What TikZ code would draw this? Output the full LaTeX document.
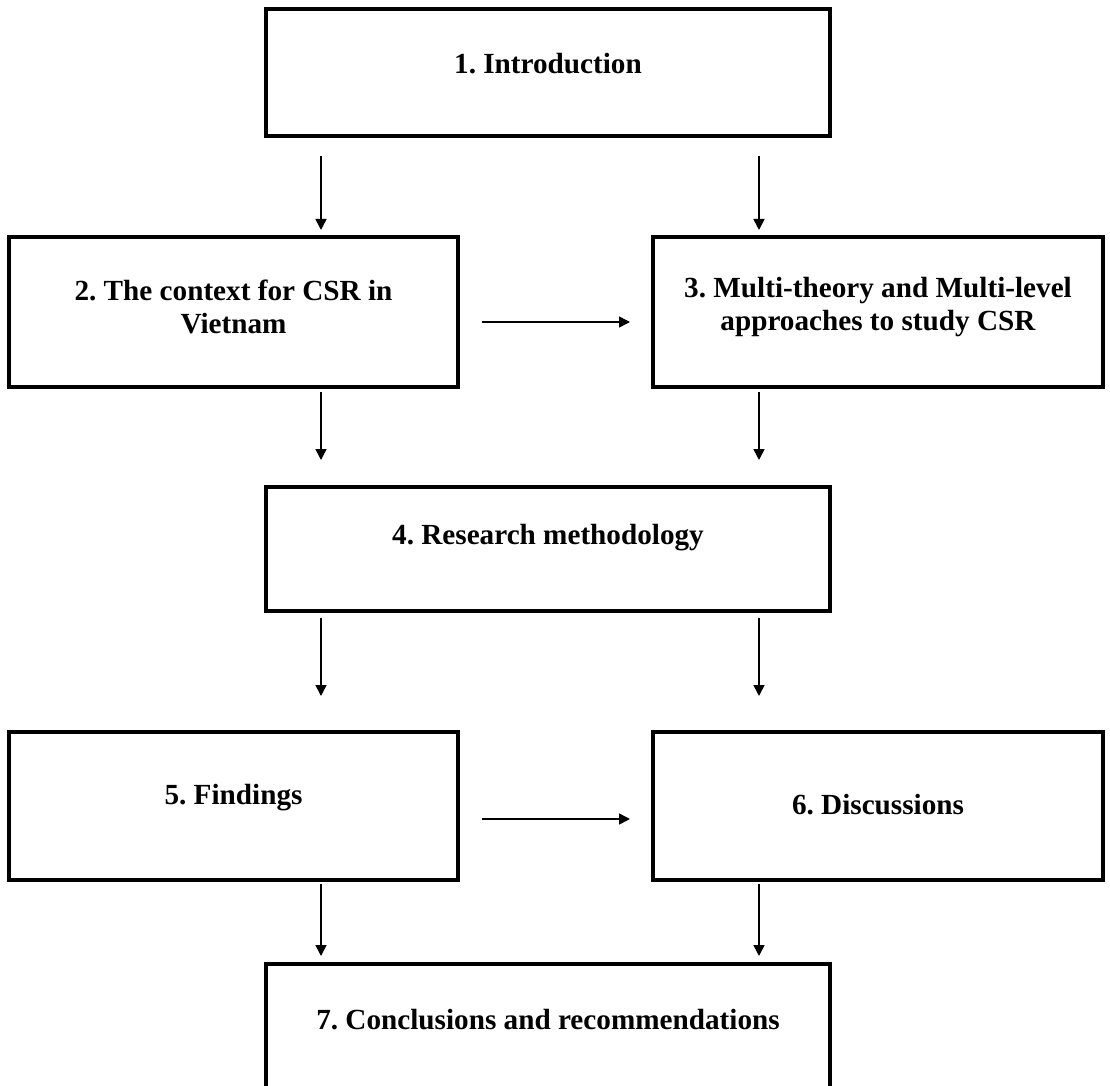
\documentclass[tikz,border=0pt]{standalone}
\usepackage{fontspec}
\setmainfont{Liberation Serif}
\frenchspacing
\usetikzlibrary{positioning,arrows.meta}
\tikzset{
    block/.style = {draw, rectangle, line width=2pt, outer sep=0pt,
        minimum height=75pt,
        minimum width=224.5pt, align=center, inner sep=2pt,
        font=\fontsize{14.6}{16.5}\selectfont\bfseries},
    wide/.style = {block, minimum width=282pt},
    lift/.style = {text depth=#1},
    arrow/.style = {draw, -{Triangle[width=5.5pt,length=5.5pt]}, line width=0.8pt}
}

\begin{document}
\begin{tikzpicture}
    \useasboundingbox (0,0) rectangle (555pt,-543pt);
    \node [wide, minimum height=63.5pt, lift=9pt] at (274pt,-36.25pt) (intro) {1. Introduction};
    \node [block, lift=5pt] at (116.75pt,-156pt) (context) {2. The context for CSR in\\Vietnam};
    \node [block, minimum width=225pt, lift=8pt, right=97.5pt of context] (multi) {3. Multi-theory and Multi-level\\approaches to study CSR};
    \node [wide, minimum height=62pt, lift=15pt, below=175.5pt of intro] (method) {4. Research methodology};
    \node [block, minimum height=74pt, lift=12pt, below=172.5pt of context] (findings) {5. Findings};
    \node [block, minimum height=74pt, minimum width=225pt, lift=2pt, right=97.5pt of findings] (discuss) {6. Discussions};
    \node [wide, minimum height=64pt, lift=9pt, below=176.5pt of method] (concl) {7. Conclusions and recommendations};
    \coordinate (lx) at (160.5pt,0);
    \coordinate (rx) at (379.5pt,0);
    \draw [arrow, shorten <=10pt, shorten >=3.5pt] (intro.south -| lx) -- (context.north -| lx);
    \draw [arrow, shorten <=10pt, shorten >=3.5pt] (intro.south -| rx) -- (multi.north -| rx);
    \draw [arrow, shorten <=12pt, shorten >=11.5pt] ([yshift=-5pt]context.east) -- ([yshift=-5pt]multi.west);
    \draw [arrow, shorten <=2.5pt, shorten >=13.5pt] (context.south -| lx) -- (method.north -| lx);
    \draw [arrow, shorten <=2.5pt, shorten >=13.5pt] (multi.south -| rx) -- (method.north -| rx);
    \draw [arrow, shorten <=3.5pt, shorten >=18pt] (method.south -| lx) -- (findings.north -| lx);
    \draw [arrow, shorten <=3.5pt, shorten >=18pt] (method.south -| rx) -- (discuss.north -| rx);
    \draw [arrow, shorten <=12pt, shorten >=11.5pt] ([yshift=-6.5pt]findings.east) -- ([yshift=-6.5pt]discuss.west);
    \draw [arrow, shorten <=2pt, shorten >=4pt] (findings.south -| lx) -- (concl.north -| lx);
    \draw [arrow, shorten <=2pt, shorten >=4pt] (discuss.south -| rx) -- (concl.north -| rx);
\end{tikzpicture}
\end{document}
